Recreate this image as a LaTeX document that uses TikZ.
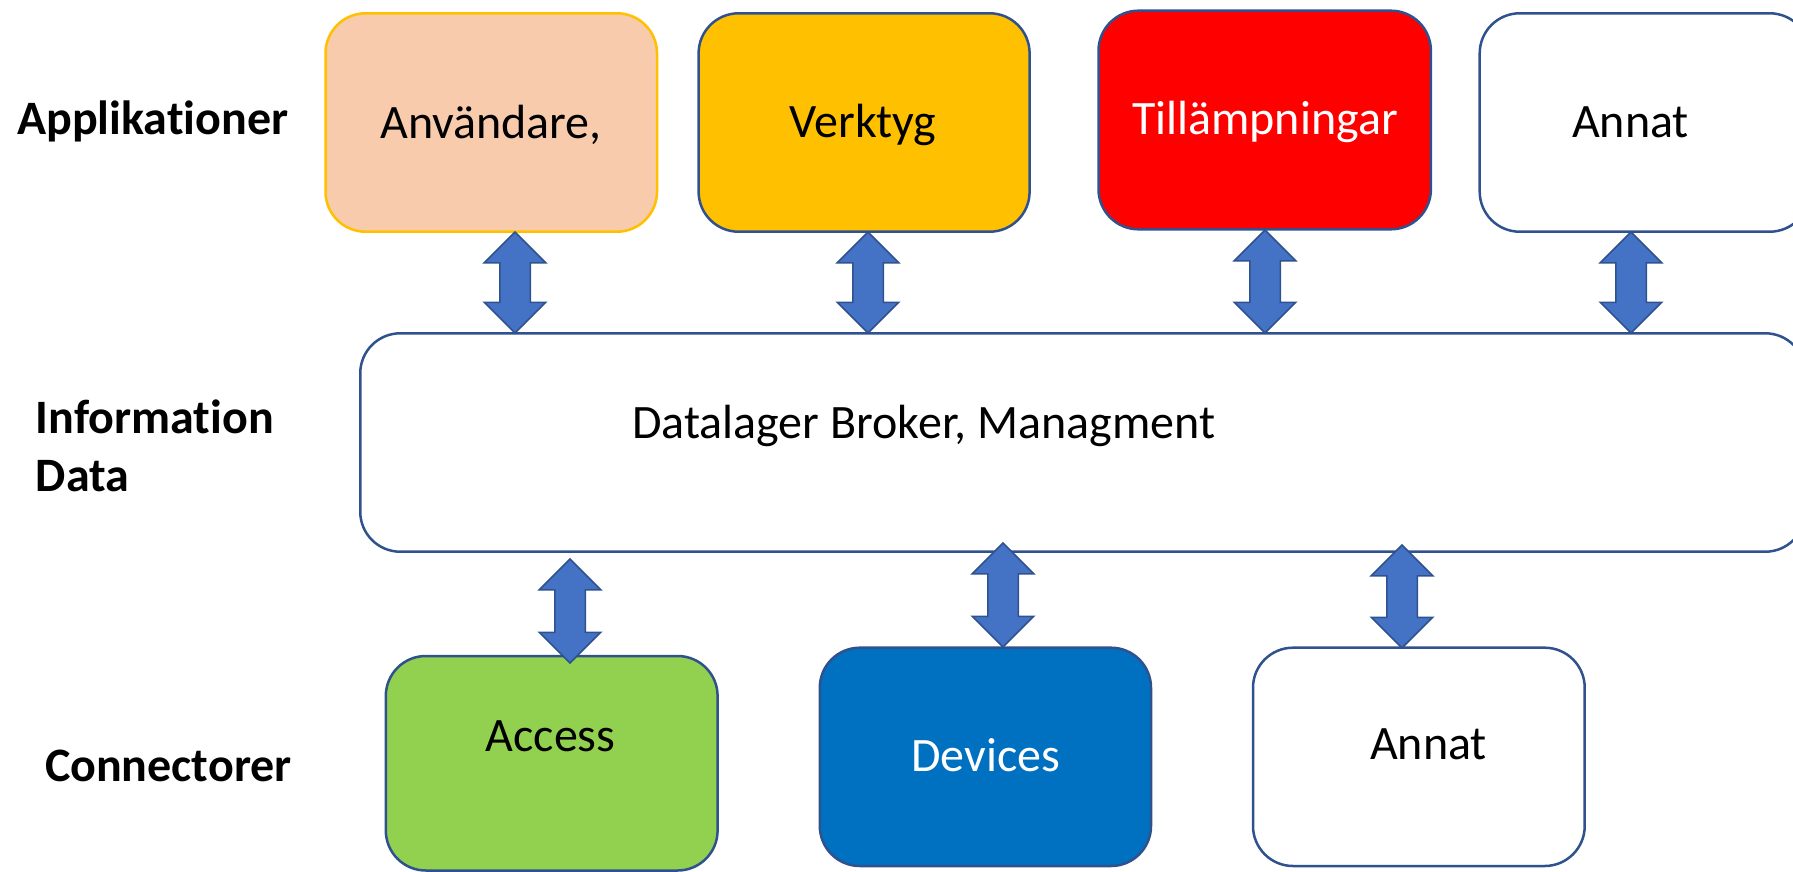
\documentclass[tikz,border=0pt]{standalone}
\usepackage{fontspec}
\setmainfont{Carlito}[Ligatures=NoCommon]
\usetikzlibrary{shapes.arrows}
\definecolor{peach}{HTML}{F8CBAD}
\definecolor{gold}{HTML}{FFC000}
\definecolor{bord}{HTML}{2F528F}
\definecolor{redbox}{HTML}{FF0000}
\definecolor{greenbox}{HTML}{92D050}
\definecolor{bluebox}{HTML}{0070C0}
\definecolor{arrfill}{HTML}{4472C4}
\begin{document}
\begin{tikzpicture}[x=1pt,y=-1pt,
  box/.style={draw=bord, line width=2.5pt, rounded corners=40pt, inner sep=0pt},
  txt/.style={font=\fontsize{48}{57}\selectfont, inner sep=0pt, anchor=base},
  lbl/.style={font=\fontsize{48}{58}\selectfont\bfseries, inner sep=0pt, anchor=base west},
  dbl/.style={double arrow, draw=bord, fill=arrfill, line width=1.5pt, rotate=90,
    inner xsep=0pt, inner ysep=14.5pt, text height=0pt, text depth=0pt,
    minimum width=60pt, double arrow head extend=15.5pt, double arrow tip angle=90}]
\useasboundingbox (0,0) rectangle (1793,872);
\clip (0,0) rectangle (1793,872);
% top row
\node[box, draw=gold, fill=peach, minimum width=331.5pt, minimum height=218.4pt] (anv) at (491.25,122.5) {};
\node[box, fill=gold, minimum width=331pt, minimum height=218.4pt] (verk) at (864.1,122.5) {};
\node[box, fill=redbox, minimum width=332.4pt, minimum height=218.6pt] (till) at (1264.7,120) {};
\node[box, fill=white, minimum width=330pt, minimum height=218.4pt] (ann1) at (1644.7,122.5) {};
% middle
\node[box, fill=white, minimum width=1445pt, minimum height=218.4pt] (data) at (1082.75,442.5) {};
% bottom row
\node[box, fill=greenbox, minimum width=331.8pt, minimum height=214.5pt] (acc) at (551.7,763.25) {};
\node[box, fill=bluebox, minimum width=331.2pt, minimum height=218.3pt] (dev) at (985.4,756.85) {};
\node[box, fill=white, minimum width=331.7pt, minimum height=218.3pt] (ann2) at (1418.85,756.85) {};
% texts
\node[txt] (anvT) at (491,138.3) {Användare,};
\node[txt] (verkT) at (863,138) {Verktyg};
\node[txt, text=white] (tillT) at (1265,135) {Tillämpningar};
\node[txt] (ann1T) at (1630.5,138) {Annat};
\node[txt, anchor=base west] (dataT) at (632,438) {Datalager Broker, Managment};
\node[txt] (accT) at (550.5,751.7) {Access};
\node[txt, text=white] (devT) at (985.5,771.7) {Devices};
\node[txt] (ann2T) at (1428.5,759) {Annat};
% labels
\node[lbl] (l1) at (17,135) {Applikationer};
\node[lbl] (l2) at (35.6,433) {Information};
\node[lbl] (l3) at (35.6,491.7) {Data};
\node[lbl] (l4) at (44.8,781.7) {Connectorer};
% arrows
\node[dbl, minimum height=101pt] (a1) at (515,282.5) {};
\node[dbl, minimum height=101pt] (a2) at (868,282.5) {};
\node[dbl, minimum height=103pt] (a3) at (1265,281.5) {};
\node[dbl, minimum height=101pt] (a4) at (1631,282.5) {};
\node[dbl, minimum height=104pt] (a5) at (570,611) {};
\node[dbl, minimum height=104pt] (a6) at (1003,595) {};
\node[dbl, minimum height=103pt] (a7) at (1402,596.5) {};
\end{tikzpicture}
\end{document}
